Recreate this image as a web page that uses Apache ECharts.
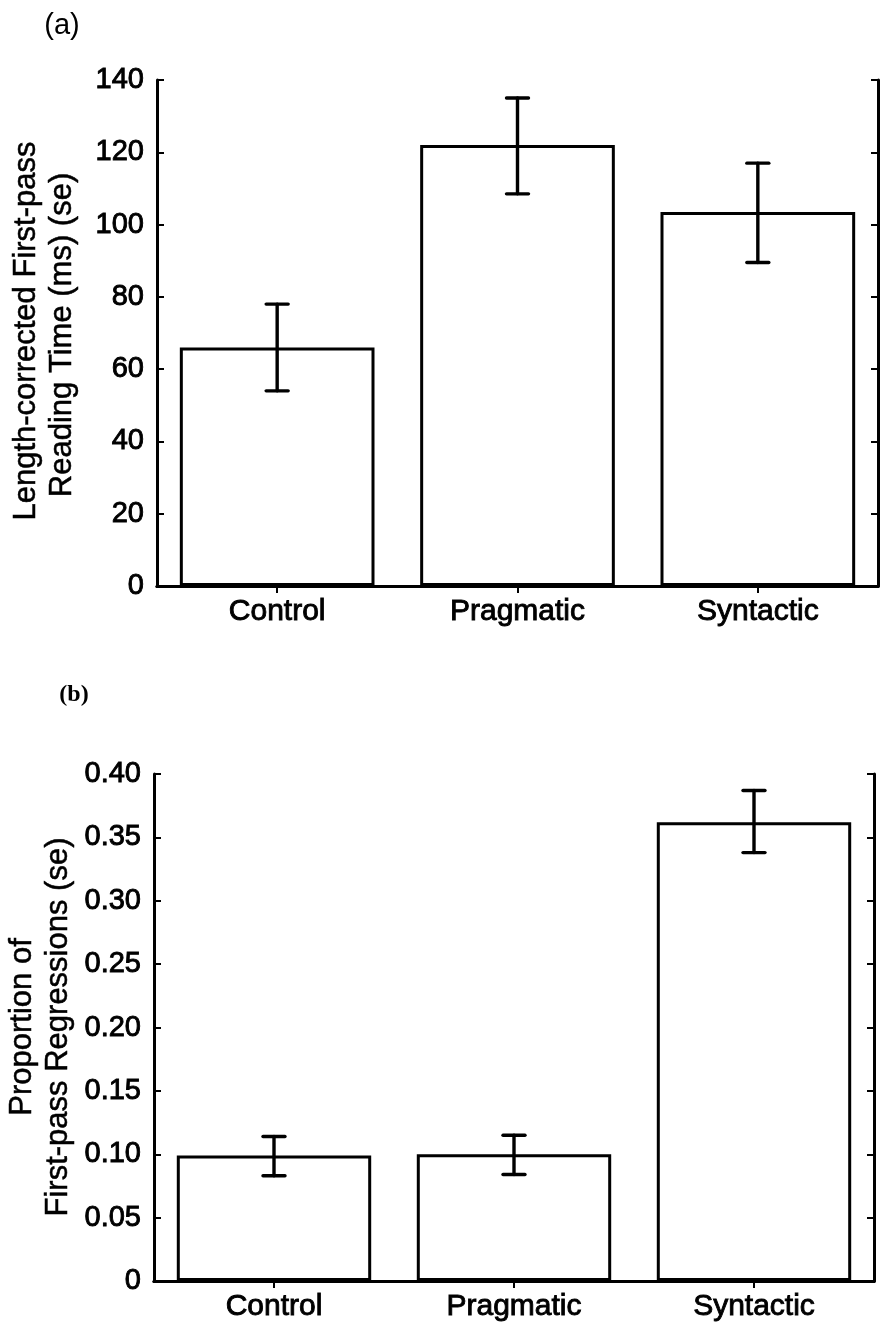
<!DOCTYPE html>
<html>
<head>
<meta charset="utf-8">
<script src="https://cdn.jsdelivr.net/npm/echarts@6/dist/echarts.min.js"></script>
<style>
html,body{margin:0;padding:0;background:#fff;}
#chart{width:881px;height:1326px;}
</style>
</head>
<body>
<div id="chart"></div>
<script>
// ---- data ----
const categories = ['Control', 'Pragmatic', 'Syntactic'];

// (a) Length-corrected first-pass reading time (ms)
const readingMean = [66, 122, 103.5];
const readingLow  = [54, 108.5, 89.5];
const readingHigh = [78, 135, 117];
const readingTicks = [0, 20, 40, 60, 80, 100, 120, 140];

// (b) Proportion of first-pass regressions
const regrMean = [0.099, 0.100, 0.362];
const regrLow  = [0.083, 0.084, 0.338];
const regrHigh = [0.114, 0.115, 0.387];
const regrTicks = [0, 0.05, 0.10, 0.15, 0.20, 0.25, 0.30, 0.35, 0.40];

// ---- styling ----
const FONT = '"Liberation Sans", Arial, Helvetica, sans-serif';
const BLACK = '#000';

function errData(low, high) {
  return categories.map((c, i) => [i, low[i], high[i]]);
}

function errRender(params, api) {
  const x = api.value(0);
  const lo = api.coord([x, api.value(1)]);
  const hi = api.coord([x, api.value(2)]);
  const cap = 11;
  const st = { stroke: BLACK, lineWidth: 3.4, lineCap: 'round' };
  return {
    type: 'group',
    children: [
      { type: 'line', shape: { x1: lo[0], y1: lo[1], x2: hi[0], y2: hi[1] }, style: st },
      { type: 'line', shape: { x1: hi[0] - cap, y1: hi[1], x2: hi[0] + cap, y2: hi[1] }, style: st },
      { type: 'line', shape: { x1: lo[0] - cap, y1: lo[1], x2: lo[0] + cap, y2: lo[1] }, style: st }
    ]
  };
}

function xAxes(gridIndex) {
  const line = { show: true, lineStyle: { color: BLACK, width: 3 } };
  return [
    {
      type: 'category', gridIndex: gridIndex, data: categories, position: 'bottom',
      axisLine: line,
      axisTick: { show: true, inside: true, alignWithLabel: true, length: 7, lineStyle: { color: BLACK, width: 2 } },
      axisLabel: { color: BLACK, fontFamily: FONT, fontSize: 30, margin: 11, textBorderColor: BLACK, textBorderWidth: 0.9 },
      splitLine: { show: false }
    },
    {
      type: 'category', gridIndex: gridIndex, data: categories, position: 'top',
      axisLine: line,
      axisTick: { show: true, inside: true, alignWithLabel: true, length: 7, lineStyle: { color: BLACK, width: 2 } },
      axisLabel: { show: false },
      splitLine: { show: false }
    }
  ];
}

function yAxes(gridIndex, ticks, fmt) {
  const line = { show: true, lineStyle: { color: BLACK, width: 3 } };
  const min = ticks[0], max = ticks[ticks.length - 1], interval = ticks[1] - ticks[0];
  return [
    {
      type: 'value', gridIndex: gridIndex, position: 'left', min: min, max: max, interval: interval,
      axisLine: line,
      axisTick: { show: true, inside: true, length: 7, lineStyle: { color: BLACK, width: 2 } },
      axisLabel: { color: BLACK, fontFamily: FONT, fontSize: 29, margin: 13, formatter: fmt, textBorderColor: BLACK, textBorderWidth: 0.9 },
      splitLine: { show: false }
    },
    {
      type: 'value', gridIndex: gridIndex, position: 'right', min: min, max: max, interval: interval,
      axisLine: line,
      axisTick: { show: true, inside: true, length: 7, lineStyle: { color: BLACK, width: 2 } },
      axisLabel: { show: false },
      splitLine: { show: false }
    }
  ];
}

const chart = echarts.init(document.getElementById('chart'), null, { renderer: 'canvas' });

const titleStyle = { fill: BLACK, font: '31px ' + FONT, textAlign: 'center', textVerticalAlign: 'middle', stroke: BLACK, lineWidth: 0.5 };

const option = {
  backgroundColor: '#fff',
  animation: false,
  grid: [
    { left: 157, top: 80, width: 721, height: 506 },
    { left: 154, top: 774, width: 720, height: 507 }
  ],
  xAxis: [].concat(xAxes(0), xAxes(1)),
  yAxis: [].concat(
    yAxes(0, readingTicks, v => String(v)),
    yAxes(1, regrTicks, v => (v === 0 ? '0' : v.toFixed(2)))
  ),
  series: [
    {
      type: 'bar', xAxisIndex: 0, yAxisIndex: 0, data: readingMean,
      barCategoryGap: '19%',
      itemStyle: { color: '#fff', borderColor: BLACK, borderWidth: 3 },
      silent: true
    },
    {
      type: 'custom', xAxisIndex: 0, yAxisIndex: 0, data: errData(readingLow, readingHigh),
      encode: { x: 0, y: [1, 2] }, renderItem: errRender, z: 5, silent: true
    },
    {
      type: 'bar', xAxisIndex: 2, yAxisIndex: 2, data: regrMean,
      barCategoryGap: '19%',
      itemStyle: { color: '#fff', borderColor: BLACK, borderWidth: 3 },
      silent: true
    },
    {
      type: 'custom', xAxisIndex: 2, yAxisIndex: 2, data: errData(regrLow, regrHigh),
      encode: { x: 0, y: [1, 2] }, renderItem: errRender, z: 5, silent: true
    }
  ],
  graphic: [
    { type: 'text', x: 62, y: 26, style: { text: '(a)', fill: BLACK, font: '29px ' + FONT, textAlign: 'center', textVerticalAlign: 'middle' } },
    { type: 'text', x: 74, y: 695, style: { text: '(b)', fill: BLACK, font: 'bold 24px "Liberation Serif", "Times New Roman", serif', textAlign: 'center', textVerticalAlign: 'middle' } },
    { type: 'text', x: 26, y: 331, rotation: Math.PI / 2, style: Object.assign({ text: 'Length-corrected First-pass' }, titleStyle) },
    { type: 'text', x: 62, y: 335, rotation: Math.PI / 2, style: Object.assign({ text: 'Reading Time (ms) (se)' }, titleStyle) },
    { type: 'text', x: 22, y: 1027, rotation: Math.PI / 2, style: Object.assign({ text: 'Proportion of' }, titleStyle) },
    { type: 'text', x: 58, y: 1027, rotation: Math.PI / 2, style: Object.assign({ text: 'First-pass Regressions (se)' }, titleStyle) }
  ]
};

chart.setOption(option);
</script>
</body>
</html>
